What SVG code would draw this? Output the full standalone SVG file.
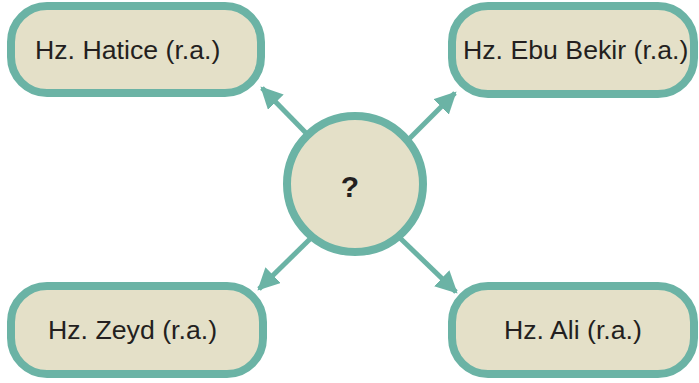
<svg xmlns="http://www.w3.org/2000/svg" width="699" height="383" viewBox="0 0 699 383">
<defs>
<style>
.box{fill:#e4e0c8;stroke:#6bb3a5;stroke-width:8}
.lbl{font-family:"Liberation Sans",Arial,sans-serif;font-size:26.7px;fill:#231f20}
.q{font-family:"Liberation Sans",Arial,sans-serif;font-size:30px;font-weight:bold;fill:#231f20}
.con{stroke:#6bb3a5;stroke-width:5;fill:none;marker-end:url(#ah)}
</style>
<marker id="ah" viewBox="0 0 10 10" refX="9" refY="5" markerWidth="4.4" markerHeight="4.4" orient="auto" markerUnits="strokeWidth">
<path d="M0,0 L10,5 L0,10 z" fill="#6bb3a5"/>
</marker>
</defs>
<rect width="699" height="383" fill="#ffffff"/>
<g id="connectors">
<line class="con" x1="306" y1="133" x2="262" y2="88"/>
<line class="con" x1="409" y1="139" x2="455" y2="93"/>
<line class="con" x1="310" y1="239" x2="259" y2="289"/>
<line class="con" x1="400" y1="238" x2="456" y2="292"/>
</g>
<g id="center">
<circle class="box" cx="355" cy="184" r="68"/>
<text class="q" x="350" y="197" text-anchor="middle">?</text>
</g>
<g id="hatice">
<rect class="box" x="11" y="6" width="250" height="87" rx="36"/>
<text class="lbl" x="35" y="59">Hz. Hatice (r.a.)</text>
</g>
<g id="ebubekir">
<rect class="box" x="452" y="6" width="242" height="88" rx="36"/>
<text class="lbl" x="463" y="59">Hz. Ebu Bekir (r.a.)</text>
</g>
<g id="zeyd">
<rect class="box" x="11" y="286" width="252" height="88" rx="36"/>
<text class="lbl" x="48" y="339">Hz. Zeyd (r.a.)</text>
</g>
<g id="ali">
<rect class="box" x="452" y="286" width="242" height="88" rx="36"/>
<text class="lbl" x="504" y="339">Hz. Ali (r.a.)</text>
</g>
</svg>
